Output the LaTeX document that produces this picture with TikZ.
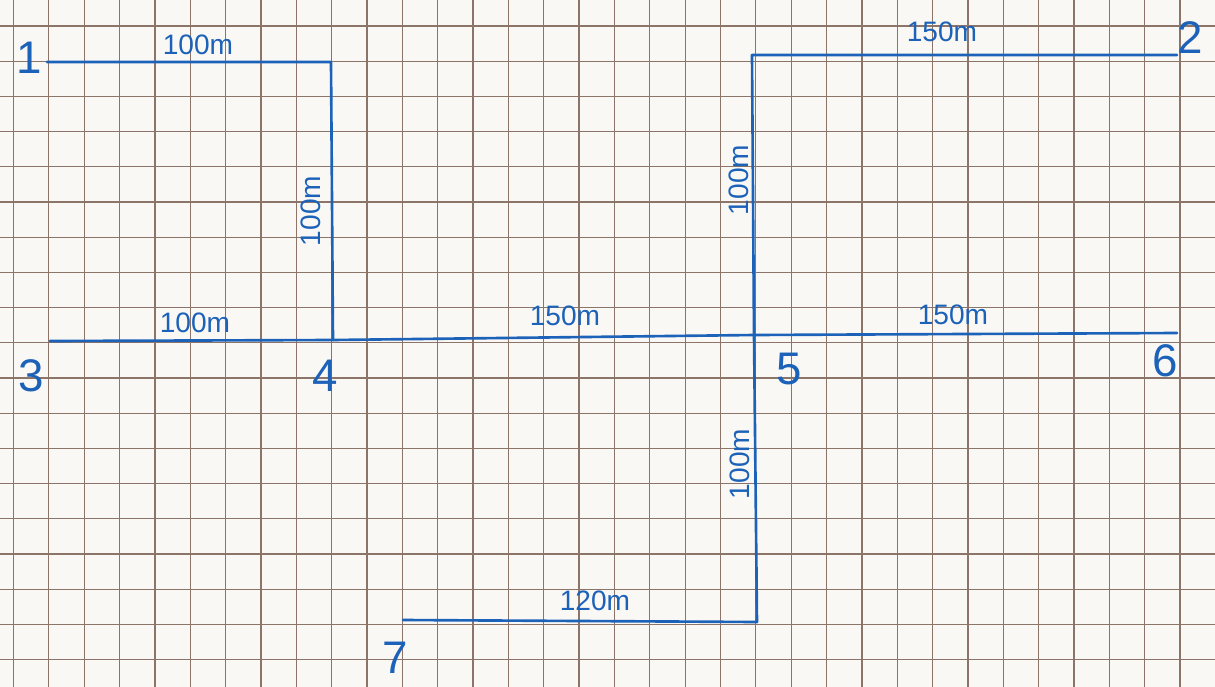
\documentclass[tikz,border=0pt]{standalone}
\usepackage{fontspec}
\setmainfont{Liberation Sans}
\definecolor{paper}{HTML}{FAF8F4}
\definecolor{gridc}{HTML}{8C7468}
\definecolor{ink}{HTML}{1C62B8}
\begin{document}
\begin{tikzpicture}[x=0.02cm,y=-0.02cm,
  gridline/.style={draw=gridc,line width=0.7pt},
  route/.style={draw=ink,line width=1.5pt,line join=round,line cap=round},
  dist/.style={text=ink,font=\fontsize{16}{16}\selectfont,inner sep=0pt},
  vdist/.style={dist,rotate=90},
  ptlabel/.style={text=ink,font=\fontsize{26}{26}\selectfont,inner sep=0pt}]
\fill[paper] (0,0) rectangle (1215,687);
\useasboundingbox (0,0) rectangle (1215,687);
% grid paper
\foreach \k in {0,...,34} {\draw[gridline] ({13.5+35.35*\k},0) -- ({13.5+35.35*\k},687);}
\foreach \k in {0,...,18} {\draw[gridline] (0,{26+35.2*\k}) -- (1215,{26+35.2*\k});}
% points
\coordinate (p1) at (47,62);
\coordinate (c14) at (331,62);
\coordinate (p4) at (333,340);
\coordinate (p3) at (50,341);
\coordinate (p5) at (754,335);
\coordinate (p6) at (1177,333);
\coordinate (c52) at (752,55);
\coordinate (p2) at (1177,55);
\coordinate (c57) at (757,622);
\coordinate (p7) at (403,620);
% routes
\draw[route] (p1) -- (c14) -- (p4);
\draw[route] (p3) -- (p4) -- (p5) -- (p6);
\draw[route] (p5) -- (c52) -- (p2);
\draw[route] (p5) -- (c57) -- (p7);
% distance labels
\node[dist] (d1) at (198,45) {100m};
\node[vdist] (d2) at (311,211) {100m};
\node[dist] (d3) at (195,323) {100m};
\node[dist] (d4) at (565,316) {150m};
\node[dist] (d5) at (942,32) {150m};
\node[vdist] (d6) at (739,180) {100m};
\node[dist] (d7) at (953,315) {150m};
\node[vdist] (d8) at (740,464) {100m};
\node[dist] (d9) at (595,601) {120m};
% point labels
\node[ptlabel] (l1) at (29,58) {1};
\node[ptlabel] (l2) at (1190,38) {2};
\node[ptlabel] (l3) at (31,376) {3};
\node[ptlabel] (l4) at (325,376) {4};
\node[ptlabel] (l5) at (789,369) {5};
\node[ptlabel] (l6) at (1165,361) {6};
\node[ptlabel] (l7) at (395,658) {7};
\end{tikzpicture}
\end{document}
